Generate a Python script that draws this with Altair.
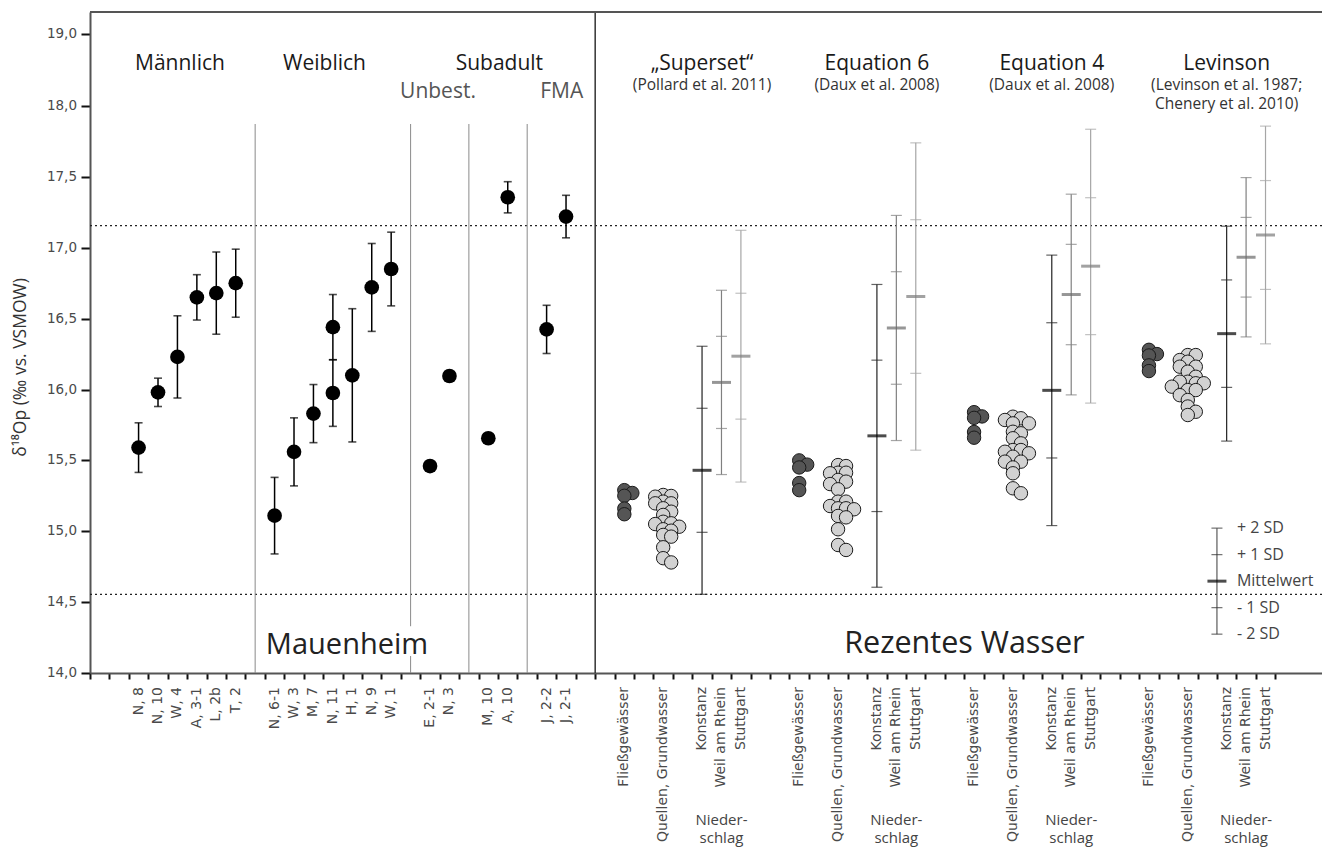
import altair as alt
import pandas as pd

# ---------------------------------------------------------------- data
# Mauenheim: δ18Op per individual, mean ± 1 SD (N, 11 was measured twice)
human_ids = ["N, 8", "N, 10", "W, 4", "A, 3-1", "L, 2b", "T, 2",
             "N, 6-1", "W, 3", "M, 7", "N, 11", "N, 11", "H, 1", "N, 9", "W, 1",
             "E, 2-1", "N, 3", "M, 10", "A, 10", "J, 2-2", "J, 2-1"]
human_mean = [15.59, 15.98, 16.23, 16.65, 16.68, 16.75,
              15.11, 15.56, 15.83, 16.44, 15.975, 16.10, 16.72, 16.85,
              15.46, 16.095, 15.656, 17.356, 16.424, 17.22]
human_sd = [0.175, 0.10, 0.29, 0.16, 0.29, 0.24,
            0.27, 0.24, 0.205, 0.23, 0.235, 0.47, 0.31, 0.26,
            None, None, None, 0.11, 0.17, 0.15]

# x-axis categories of the Mauenheim part ("" = spacer slot)
human_axis = ["", "", "N, 8", "N, 10", "W, 4", "A, 3-1", "L, 2b", "T, 2", "",
              "N, 6-1", "W, 3", "M, 7", "N, 11", "H, 1", "N, 9", "W, 1", "",
              "E, 2-1", "N, 3", "", "M, 10", "A, 10", "", "J, 2-2", "J, 2-1", ""]
human_groups = ["Männlich", "Weiblich", "Subadult"]
subadult_groups = ["Unbest.", "FMA"]

# modern water converted to δ18Op with four calibration equations
methods = ["„Superset“", "Equation 6", "Equation 4", "Levinson"]
method_refs = ["(Pollard et al. 2011)", "(Daux et al. 2008)", "(Daux et al. 2008)",
               "(Levinson et al. 1987;\nChenery et al. 2010)"]
water_axis = ["", "Fließgewässer", "", "Quellen, Grundwasser", "",
              "Konstanz", "Weil am Rhein", "Stuttgart", ""]

river = [
    [15.29, 15.27, 15.25, 15.16, 15.12],
    [15.50, 15.47, 15.45, 15.34, 15.29],
    [15.84, 15.81, 15.80, 15.70, 15.66],
    [16.28, 16.25, 16.24, 16.17, 16.13],
]
spring = [
    [15.256, 15.249, 15.244, 15.209, 15.197, 15.197, 15.162, 15.138, 15.115, 15.067,
     15.056, 15.051, 15.032, 15.014, 15.004, 14.974, 14.962, 14.887, 14.81, 14.78],
    [15.467, 15.46, 15.413, 15.413, 15.409, 15.362, 15.35, 15.333, 15.296, 15.209,
     15.209, 15.178, 15.162, 15.162, 15.155, 15.108, 15.098, 15.014, 14.903, 14.868],
    [15.808, 15.797, 15.785, 15.761, 15.761, 15.702, 15.691, 15.656, 15.62, 15.573,
     15.573, 15.561, 15.55, 15.526, 15.491, 15.491, 15.45, 15.409, 15.303, 15.268],
    [16.243, 16.243, 16.208, 16.196, 16.161, 16.161, 16.126, 16.09, 16.055, 16.055,
     16.044, 16.044, 16.02, 15.996, 15.996, 15.96, 15.926, 15.88, 15.843, 15.82],
]

# precipitation stations: mean and 1 SD per calibration
stations = ["Konstanz", "Weil am Rhein", "Stuttgart"]
precip_mean = [[15.43, 16.05, 16.235], [15.673, 16.434, 16.656],
               [15.994, 16.67, 16.87], [16.394, 16.933, 17.09]]
precip_sd = [[0.4375, 0.325, 0.444], [0.534, 0.397, 0.542],
             [0.477, 0.354, 0.483], [0.379, 0.281, 0.384]]

ref_lines = [17.156, 14.555]

key_mean, key_sd = 14.648, 0.187
key_labels = ["+ 2 SD", "+ 1 SD", "Mittelwert", "- 1 SD", "- 2 SD"]
key_steps = [2, 1, 0, -1, -2]

y_ticks = [14.0, 14.5, 15.0, 15.5, 16.0, 16.5, 17.0, 17.5, 18.0]
y_tick_labels = ["14,0", "14,5", "15,0", "15,5", "16,0", "16,5", "17,0", "17,5", "18,0"]

# ---------------------------------------------------------------- layout
W, H = 1232, 661
SLOT_PX = 19.43                     # width of one category slot
X_MAX = W / SLOT_PX
PX_PER_UNIT = 141.75
Y_MIN = 14.0
Y_MAX = Y_MIN + H / PX_PER_UNIT
Y_19 = 18.0 + 72 / PX_PER_UNIT      # the 18–19 span is drawn compressed
FONT = "Open Sans"
TICK_FONT = "DejaVu Sans"

slot_labels = human_axis + water_axis * 4
water_base = [len(human_axis) + 9 * g for g in range(4)]


def swarm_offsets(values, step=8.0, min_dist=5.5):
    """Simple dodge layout: pixel x offsets so circles do not sit on top of each other."""
    placed, offs = [], []
    for v in values:
        yv = v * PX_PER_UNIT
        for k in (0, 1, -1, 2, -2, 3, -3):
            xo = k * step
            if all((xo - px) ** 2 + (yv - py) ** 2 >= min_dist ** 2 for px, py in placed):
                break
        placed.append((xo, yv))
        offs.append(xo)
    return offs


# Mauenheim table
hum = pd.DataFrame({"id": human_ids, "mean": human_mean, "sd": human_sd})
hum["x"] = [human_axis.index(i) + 0.5 for i in hum["id"]]
err = hum.dropna(subset=["sd"]).copy()
err["lo"] = err["mean"] - err["sd"]
err["hi"] = err["mean"] + err["sd"]
caps = pd.concat([err.assign(y=err["lo"]), err.assign(y=err["hi"])])

# water sample swarms
rows = []
for g in range(4):
    for kind, vals, off in (("river", river[g], 1), ("spring", spring[g], 3)):
        vs = sorted(vals, reverse=True)
        for v, xo in zip(vs, swarm_offsets(vs)):
            rows.append({"x": water_base[g] + off + 0.5 + xo / SLOT_PX, "y": v, "kind": kind})
swarm = pd.DataFrame(rows)

# precipitation mean ± SD bars
prow = []
for g in range(4):
    for s, st in enumerate(stations):
        prow.append({"x": water_base[g] + 5 + s + 0.5, "m": precip_mean[g][s],
                     "sd": precip_sd[g][s], "station": st})
prec = pd.DataFrame(prow)
prec["lo2"] = prec["m"] - 2 * prec["sd"]
prec["hi2"] = prec["m"] + 2 * prec["sd"]
prec_ticks = pd.concat([prec.assign(y=prec["m"] + k * prec["sd"]) for k in (-2, -1, 1, 2)])

key_x = water_base[3] + 5
key = pd.DataFrame({"x": [key_x], "lo": [key_mean - 2 * key_sd], "hi": [key_mean + 2 * key_sd],
                    "m": [key_mean]})
key_ticks = pd.DataFrame({"x": key_x, "y": [key_mean + k * key_sd for k in (-2, -1, 1, 2)]})
key_text = pd.DataFrame({"x": key_x, "y": [key_mean + k * key_sd for k in key_steps],
                         "t": key_labels})

# category labels under the axis, one per occupied slot
xlab = pd.DataFrame({"x": [i + 0.5 for i, t in enumerate(slot_labels) if t],
                     "t": [t for t in slot_labels if t]})
ylab = pd.DataFrame({"y": y_ticks + [Y_19], "t": y_tick_labels + ["19,0"]})

# ---------------------------------------------------------------- scales / axes
xs = alt.Scale(domain=[0, X_MAX], nice=False, zero=False)
ys = alt.Scale(domain=[Y_MIN, Y_MAX], nice=False, zero=False)

x_axis = alt.Axis(values=list(range(len(slot_labels))), labels=False, title=None,
                  grid=False, tickSize=6)
y_axis = alt.Axis(values=y_ticks + [Y_19], labels=False, grid=False, tickSize=9,
                  title="δ¹⁸Op (‰ vs. VSMOW)", titleAngle=270,
                  titleX=-70, titleY=355, titleAlign="center", titleBaseline="middle")


def X(f):
    return alt.X(f, type="quantitative", scale=xs, axis=x_axis)


def Y(f):
    return alt.Y(f, type="quantitative", scale=ys, axis=y_axis)


# ---------------------------------------------------------------- layers
frame_top = alt.Chart(pd.DataFrame({"a": [0]})).mark_rule(color="#555", strokeWidth=2).encode(
    x=alt.value(0), x2=alt.value(W), y=alt.value(0))

refs = alt.Chart(pd.DataFrame({"y": ref_lines})).mark_rule(
    color="#222", strokeWidth=1.3, strokeDash=[2, 3]).encode(y=Y("y"))

main_div = alt.Chart(pd.DataFrame({"x": [len(human_axis)], "a": [Y_MIN], "b": [Y_MAX]})).mark_rule(
    color="#333", strokeWidth=1.5).encode(x=X("x"), y=Y("a"), y2="b")

sub_top = 18.0 - 18 / PX_PER_UNIT
sub_div = pd.DataFrame({
    "x": [8.5, 16.5, 16.5, 19.5, 22.5],
    "a": [sub_top, sub_top, 14.12, sub_top, sub_top],
    "b": [Y_MIN, 14.33, Y_MIN, Y_MIN, Y_MIN]})
subs = alt.Chart(sub_div).mark_rule(color="#8a8a8a", strokeWidth=1).encode(
    x=X("x"), y=Y("a"), y2="b")

h_rules = alt.Chart(err).mark_rule(color="#000", strokeWidth=1.5).encode(
    x=X("x"), y=Y("lo"), y2="hi")
h_caps = alt.Chart(caps).mark_tick(orient="horizontal", size=8, thickness=1.6, color="#000").encode(
    x=X("x"), y=Y("y"))
h_pts = alt.Chart(hum).mark_circle(size=215, color="#000", opacity=1).encode(
    x=X("x"), y=Y("mean"))

sw = alt.Chart(swarm).mark_circle(size=180, opacity=1, stroke="#1a1a1a", strokeWidth=1).encode(
    x=X("x"), y=Y("y"),
    color=alt.Color("kind:N", scale=alt.Scale(domain=["river", "spring"],
                                               range=["#555555", "#d2d2d2"]), legend=None))

line_cols = alt.Scale(domain=stations, range=["#222222", "#808080", "#a6a6a6"])
mean_cols = alt.Scale(domain=stations, range=["#000000", "#6a6a6a", "#7a7a7a"])
p_rules = alt.Chart(prec).mark_rule(strokeWidth=1.2).encode(
    x=X("x"), y=Y("lo2"), y2="hi2",
    color=alt.Color("station:N", scale=line_cols, legend=None))
p_ticks = alt.Chart(prec_ticks).mark_tick(orient="horizontal", size=11, thickness=1.2).encode(
    x=X("x"), y=Y("y"), color=alt.Color("station:N", scale=line_cols, legend=None))
p_mean = alt.Chart(prec).mark_tick(orient="horizontal", size=19, thickness=3).encode(
    x=X("x"), y=Y("m"), color=alt.Color("station:N", scale=mean_cols, legend=None))

k_rule = alt.Chart(key).mark_rule(color="#5a5a5a", strokeWidth=1.2).encode(
    x=X("x"), y=Y("lo"), y2="hi")
k_ticks = alt.Chart(key_ticks).mark_tick(orient="horizontal", size=11, thickness=1.2,
                                         color="#333").encode(x=X("x"), y=Y("y"))
k_mean = alt.Chart(key).mark_tick(orient="horizontal", size=19, thickness=3,
                                  color="#000").encode(x=X("x"), y=Y("m"))
k_text = alt.Chart(key_text).mark_text(align="left", baseline="middle", dx=20, font=FONT,
                                       fontSize=16, color="#444").encode(
    x=X("x"), y=Y("y"), text="t")

# tick labels
x_text = alt.Chart(xlab).mark_text(angle=270, align="right", baseline="middle",
                                   font=TICK_FONT, fontSize=14, color="#4a4a4a").encode(
    x=X("x"), y=alt.value(H + 14), text="t")
y_text = alt.Chart(ylab).mark_text(align="right", baseline="middle", font=TICK_FONT,
                                   fontSize=13.5, color="#4a4a4a").encode(
    x=alt.value(-13), y=Y("y"), text="t")

# group headers
hdr = pd.DataFrame({"t": human_groups, "x": [4.63, 12.07, 21.07], "y": 18.254})
hdr_l = alt.Chart(hdr).mark_text(font=FONT, fontSize=21, color="#1a1a1a",
                                 baseline="alphabetic").encode(x=X("x"), y=Y("y"), text="t")
sub_hdr = pd.DataFrame({"t": subadult_groups, "x": [17.91, 24.28], "y": 18.059})
hdr_s = alt.Chart(sub_hdr).mark_text(font=FONT, fontSize=21, color="#555",
                                     baseline="alphabetic").encode(x=X("x"), y=Y("y"), text="t")
mhdr = pd.DataFrame({"t": methods, "x": [b + 5.5 for b in water_base], "y": 18.254})
hdr_m = alt.Chart(mhdr).mark_text(font=FONT, fontSize=21, color="#1a1a1a",
                                  baseline="alphabetic").encode(x=X("x"), y=Y("y"), text="t")
rhdr = pd.DataFrame({"t": method_refs, "x": [b + 5.5 for b in water_base], "y": 18.11})
hdr_r = alt.Chart(rhdr).mark_text(font=FONT, fontSize=15.5, color="#333", lineBreak="\n",
                                  lineHeight=19, baseline="alphabetic").encode(
    x=X("x"), y=Y("y"), text="t")

big = pd.DataFrame({"t": ["Mauenheim"], "x": [9.0], "y": [14.132]})
big_l = alt.Chart(big).mark_text(font=FONT, fontSize=29, color="#222", align="left", dx=1,
                                 baseline="alphabetic").encode(x=X("x"), y=Y("y"), text="t")
big2 = pd.DataFrame({"t": ["Rezentes Wasser"], "x": [45.0], "y": [14.139]})
big_r = alt.Chart(big2).mark_text(font=FONT, fontSize=30.5, color="#222", align="center",
                                  baseline="alphabetic").encode(x=X("x"), y=Y("y"), text="t")

nied = pd.DataFrame({"t": "Nieder-\nschlag", "x": [b + 6.5 for b in water_base]})
nied_t = alt.Chart(nied).mark_text(font=FONT, fontSize=15, color="#444", lineBreak="\n",
                                   lineHeight=18, baseline="alphabetic").encode(
    x=X("x"), y=alt.value(813), text="t")

chart = alt.layer(
    refs, main_div, subs, frame_top,
    h_rules, h_caps, h_pts,
    sw, p_rules, p_ticks, p_mean,
    k_rule, k_ticks, k_mean, k_text,
    x_text, y_text,
    hdr_l, hdr_s, hdr_m, hdr_r, big_l, big_r, nied_t,
).resolve_scale(color="independent").properties(
    width=W, height=H,
    padding={"left": 90, "top": 12, "right": 0, "bottom": 178},
    autosize=alt.AutoSizeParams(type="none"),
).configure_view(strokeWidth=0).configure(background="white").configure_axis(
    domainColor="#555", domainWidth=2, tickColor="#111", tickWidth=2,
    titleFont=FONT, titleColor="#333", titleFontWeight="normal", titleFontSize=17.5,
)

chart.save("out.html", embed_options={"renderer": "svg", "actions": False})
